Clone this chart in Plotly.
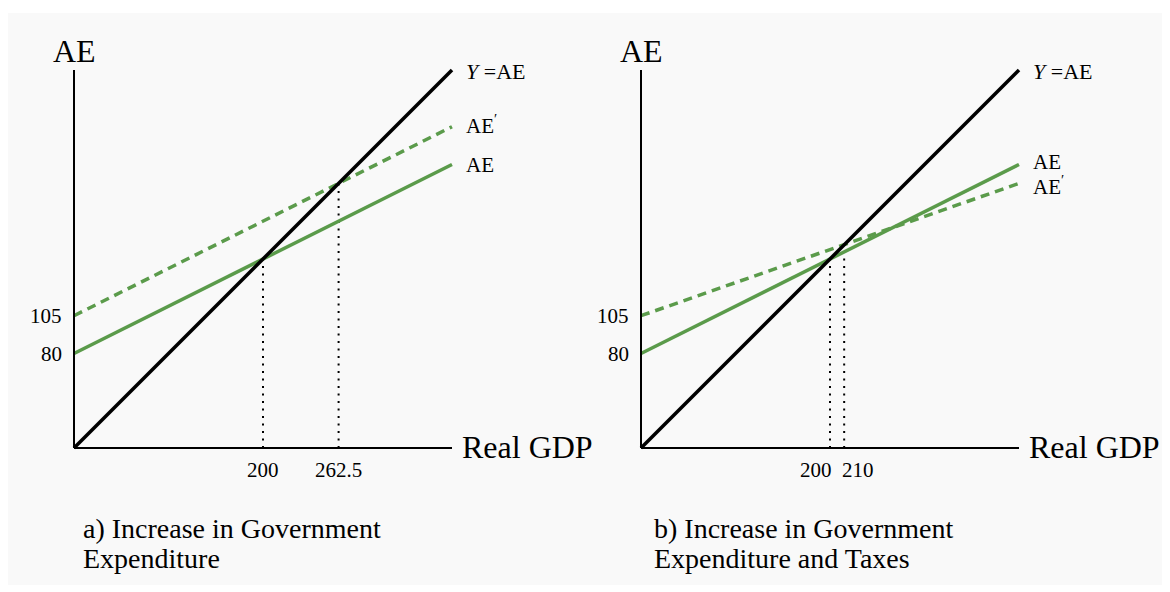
import plotly.graph_objects as go

# Drawing units (diagram is schematic; tick labels carry the model values)
x_line = [0, 400]
# Panel a
ye_a = [0, 400]
ae_a = [100, 300]
ae2_a = [140, 340]
eq_a = [200, 280]          # equilibria (drawn positions)
eq_a_labels = ["200", "262.5"]
# Panel b
ye_b = [0, 400]
ae_b = [100, 300]
ae2_b = [140, 280]
eq_b = [200, 215]
eq_b_labels = ["200", "210"]
y_ticks = [140, 100]
y_tick_labels = ["105", "80"]

GREEN = "#5b9b4b"
FONT = "Liberation Serif, Times New Roman, serif"

OFF = 8  # page body margin
W, H = 1162, 584
PX = 378 / 400.0
pad = 6
def xdom(x0):
    x0 -= OFF
    return [(x0 - pad * PX) / W, (x0 + 400 * PX + pad * PX) / W]
base = 448 - OFF
ydom = [(H - base - pad * PX) / H, (H - base + 400 * PX + pad * PX) / H]

fig = go.Figure()

panels = [
    ("x", "y", 74, ye_a, ae_a, ae2_a, eq_a, eq_a_labels),
    ("x2", "y2", 641, ye_b, ae_b, ae2_b, eq_b, eq_b_labels),
]

for xa, ya, x0, ye, ae, ae2, eq, eql in panels:
    for xv in eq:
        fig.add_trace(go.Scatter(x=[xv, xv], y=[0, xv], mode="lines", xaxis=xa, yaxis=ya,
                                 line=dict(color="black", width=2, dash="2px,5.5px"),
                                 hoverinfo="skip", showlegend=False))
    fig.add_trace(go.Scatter(x=x_line, y=ae, mode="lines", xaxis=xa, yaxis=ya,
                             line=dict(color=GREEN, width=3.5), showlegend=False))
    fig.add_trace(go.Scatter(x=x_line, y=ae2, mode="lines", xaxis=xa, yaxis=ya,
                             line=dict(color=GREEN, width=3.5, dash="9px,6px"), showlegend=False))
    fig.add_trace(go.Scatter(x=x_line, y=ye, mode="lines", xaxis=xa, yaxis=ya,
                             line=dict(color="black", width=3.5), showlegend=False))
    fig.add_shape(type="line", xref=xa, yref=ya, x0=0, y0=0, x1=0, y1=400,
                  line=dict(color="black", width=2))
    fig.add_shape(type="line", xref=xa, yref=ya, x0=0, y0=0, x1=400, y1=0,
                  line=dict(color="black", width=2))

fig.update_layout(
    width=W, height=H,
    margin=dict(l=0, r=0, t=0, b=0),
    paper_bgcolor="white", plot_bgcolor="rgba(0,0,0,0)",
    font=dict(family=FONT, color="black"),
    xaxis=dict(domain=xdom(74), range=[-pad, 400 + pad], visible=False),
    yaxis=dict(domain=ydom, range=[-pad, 400 + pad], visible=False),
    xaxis2=dict(domain=xdom(641), range=[-pad, 400 + pad], visible=False),
    yaxis2=dict(domain=ydom, range=[-pad, 400 + pad], visible=False),
)

fig.add_shape(type="rect", xref="paper", yref="paper", x0=0, x1=(1164 - OFF) / W,
              y0=1 - (585 - OFF) / H, y1=1 - (13 - OFF) / H, fillcolor="#f9f9f9",
              line=dict(width=0), layer="below")

def ann(text, x, y, xref, yref, size, xanchor="center", yanchor="middle", xshift=0, yshift=0):
    fig.add_annotation(text=text, x=x, y=y, xref=xref, yref=yref, showarrow=False,
                       font=dict(size=size, family=FONT, color="black"),
                       xanchor=xanchor, yanchor=yanchor, xshift=xshift, yshift=yshift)

captions = [
    ("a) Increase in Government", "Expenditure"),
    ("b) Increase in Government", "Expenditure and Taxes"),
]
for i, (xa, ya, x0, ye, ae, ae2, eq, eql) in enumerate(panels):
    ann("AE", 0, 400, xa, ya, 32, yanchor="bottom", yshift=-1)
    ann("Real GDP", 400, 0, xa, ya, 32, xanchor="left", xshift=8, yshift=1)
    ann("<i>Y</i> =AE", 400, ye[1], xa, ya, 22, xanchor="left", xshift=12, yshift=-1)
    for yv, lab in zip(y_ticks, y_tick_labels):
        ann(lab, 0, yv, xa, ya, 21, xanchor="right", xshift=-10)
    if i == 0:
        ann("AE<sup>′</sup>", 400, ae2[1], xa, ya, 21, xanchor="left", xshift=12, yshift=2)
        ann("AE", 400, ae[1], xa, ya, 21, xanchor="left", xshift=12)
        for xv, lab in zip(eq, eql):
            ann(lab, xv, 0, xa, ya, 21, yanchor="top", yshift=-8)
    else:
        ann("AE", 400, ae[1], xa, ya, 21, xanchor="left", xshift=12, yshift=3)
        ann("AE<sup>′</sup>", 400, ae2[1], xa, ya, 21, xanchor="left", xshift=12, yshift=-2)
        ann(eql[0], eq[0], 0, xa, ya, 21, xanchor="right", yanchor="top", xshift=4, yshift=-8)
        ann(eql[1], eq[1], 0, xa, ya, 21, xanchor="left", yanchor="top", xshift=-4, yshift=-8)
    px0 = ((81 if i == 0 else 652) - OFF) / W
    for j, yy in enumerate([538, 568]):
        fig.add_annotation(text=captions[i][j], x=px0, y=1 - (yy - OFF) / H,
                           xref="paper", yref="paper",
                           showarrow=False, xanchor="left", yanchor="bottom",
                           font=dict(size=28, family=FONT, color="black"), yshift=-8)

fig.write_html("out.html")
